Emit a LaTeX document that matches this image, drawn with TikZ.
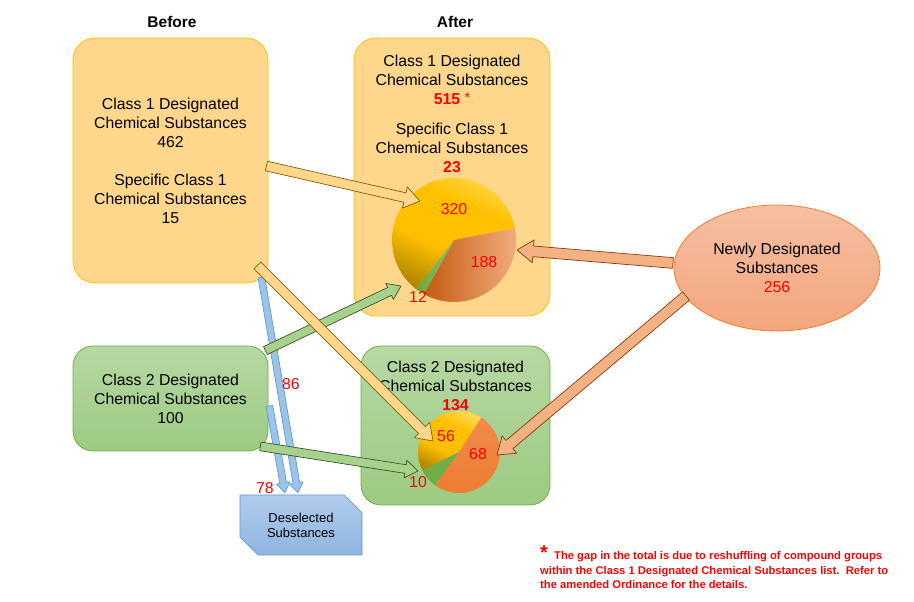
\documentclass[tikz,border=0pt]{standalone}
\usepackage{fontspec}
\setmainfont{Liberation Sans}
\usetikzlibrary{calc,shapes.geometric,shapes.arrows,shapes.misc}
\definecolor{orfill}{HTML}{FFD78C}
\definecolor{orline}{HTML}{FFC000}
\definecolor{grtop}{HTML}{B6D8A2}
\definecolor{grbot}{HTML}{9DCA82}
\definecolor{grline}{HTML}{70AD47}
\definecolor{saltop}{HTML}{F6BFA3}
\definecolor{salbot}{HTML}{F3A67C}
\definecolor{salline}{HTML}{ED7D31}
\definecolor{bltop}{HTML}{B0CCEC}
\definecolor{blbot}{HTML}{8FB5E2}
\definecolor{blline}{HTML}{5B9BD5}
\definecolor{arror}{HTML}{FFD68C}
\definecolor{arrorline}{HTML}{7F6000}
\definecolor{arrgr}{HTML}{A9D18E}
\definecolor{arrgrline}{HTML}{385723}
\definecolor{arrsal}{HTML}{F4B183}
\definecolor{arrsalline}{HTML}{843C0C}
\definecolor{arrbl}{HTML}{9DC3E6}
\definecolor{pieyel}{HTML}{FFC000}
\definecolor{pieyeltop}{HTML}{FFD84D}
\definecolor{pieyeldark}{HTML}{B58900}
\definecolor{pieor}{HTML}{ED7D31}
\definecolor{pieortop}{HTML}{F08A4C}
\definecolor{pieordark}{HTML}{C55A11}
\definecolor{pieormid}{HTML}{E8793A}
\definecolor{pieorlight}{HTML}{F4B183}
\definecolor{piegr}{HTML}{70AD47}
\definecolor{piegrdark}{HTML}{6AA53F}
\definecolor{piegrlight}{HTML}{8DC46A}
\pgfdeclareverticalshading{yelshade}{100bp}{color(0bp)=(pieyeldark); color(25bp)=(pieyeldark);
  color(42bp)=(pieyel); color(62bp)=(pieyel); color(75bp)=(pieyeltop); color(100bp)=(pieyeltop)}
\newcommand{\fatarrow}[3]{%
  \path let \p1=($(#3)-(#2)$), \n1={atan2(\y1,\x1)}, \n2={veclen(\x1,\y1)} in
    node[#1,minimum height=\n2,rotate=\n1,anchor=tail] at (#2) {};}
\begin{document}
\begin{tikzpicture}[x=1pt,y=1pt,line join=round,
    txt/.style={font=\fontsize{15.8}{19}\selectfont,align=center,inner sep=0pt},
    num/.style={font=\fontsize{15.8}{19}\selectfont,text=red,inner sep=0pt},
    hdr/.style={font=\fontsize{15.5}{18}\selectfont\bfseries},
    orbox/.style={rounded corners=22pt,draw=orline,fill=orfill,line width=0.8pt},
    grbox/.style={rounded corners=20pt,draw=grline,top color=grtop,bottom color=grbot,line width=0.8pt},
    fat/.style={single arrow,inner sep=0pt,outer sep=0pt,single arrow tip angle=70,
      single arrow head indent=0pt,line width=0.7pt},
    fator/.style={fat,draw=arrorline,fill=arror,inner ysep=4.5pt,single arrow head extend=6pt},
    fatgr/.style={fat,draw=arrgrline,fill=arrgr,inner ysep=4pt,single arrow head extend=4.5pt},
    fatsal/.style={fat,draw=arrsalline,fill=arrsal,inner ysep=5pt,single arrow head extend=6pt},
    fatbl/.style={fat,draw=blline,fill=arrbl,inner ysep=3pt,single arrow head extend=3.5pt}]
  \useasboundingbox (0,0) rectangle (914,602);
  \node[hdr] (before) at (172,580) {Before};
  \node[hdr] (after) at (455,580) {After};
  % boxes
  \node[orbox,txt,minimum width=195,minimum height=245] (b1) at (170.5,441.5)
    {Class 1 Designated\\Chemical Substances\\462\\[19pt]Specific Class 1\\Chemical Substances\\15};
  \node[orbox,minimum width=196,minimum height=278] (a1) at (452,425) {};
  \node[txt,anchor=north] (a1t) at (452,547.6)
    {Class 1 Designated\\Chemical Substances\\\textcolor{red}{\bfseries 515} \textcolor{red}{\raisebox{1.5pt}{\fontsize{14}{14}\selectfont*}}\\[11pt]
     Specific Class 1\\Chemical Substances\\\textcolor{red}{\bfseries 23}};
  \node[grbox,txt,minimum width=195,minimum height=105] (b2) at (170.5,203.5)
    {Class 2 Designated\\Chemical Substances\\100};
  \node[grbox,minimum width=189,minimum height=159] (a2) at (455.5,176.5) {};
  \node[txt,anchor=north] (a2t) at (455.5,241.6)
    {Class 2 Designated\\Chemical Substances\\\textcolor{red}{\bfseries 134}};
  \node[ellipse,txt,draw=salline,top color=saltop,bottom color=salbot,line width=0.8pt,
    minimum width=206,minimum height=126] (new) at (777,334)
    {Newly Designated\\Substances\\\textcolor{red}{256}};
  \node[chamfered rectangle,chamfered rectangle corners={north east,south west},
    chamfered rectangle xsep=9pt,chamfered rectangle ysep=9pt,
    draw=blline,top color=bltop,bottom color=blbot,line width=0.7pt,
    font=\fontsize{13}{15}\selectfont,align=center,inner sep=0pt,
    minimum width=122,minimum height=60] (desel) at (301,77) {Deselected\\Substances};
  % pies
  \coordinate (pie1) at (454,362);
  \coordinate (pie2) at (459,150);
  \shade[shading=yelshade,shading angle=-25]
    (pie1) -- ++(-127.5:62) arc[start angle=-127.5,end angle=-349,radius=62] -- cycle;
  \shade[left color=pieordark,middle color=pieormid,right color=pieorlight]
    (pie1) -- ++(11:62) arc[start angle=11,end angle=-119.2,radius=62] -- cycle;
  \shade[left color=piegrdark,right color=piegrlight]
    (pie1) -- ++(-119.2:62) arc[start angle=-119.2,end angle=-127.5,radius=62] -- cycle;
  \shade[shading=yelshade,shading angle=-25]
    (pie2) -- ++(-152.9:41) arc[start angle=-152.9,end angle=-303,radius=41] -- cycle;
  \shade[top color=pieortop,bottom color=pieor]
    (pie2) -- ++(57:41) arc[start angle=57,end angle=-126,radius=41] -- cycle;
  \fill[piegr]
    (pie2) -- ++(-126:41) arc[start angle=-126,end angle=-152.9,radius=41] -- cycle;
  % arrow ends
  \coordinate (bl1s) at ($(b1.south east)+(-7,6)$);
  \coordinate (bl1e) at ($(desel.north)+(-3,2)$);
  \coordinate (bl2s) at ($(b2.east)+(1,-7.5)$);
  \coordinate (bl2e) at ($(desel.north)+(-16,2)$);
  \coordinate (gr1s) at ($(b2.north east)+(-3,-5)$);
  \coordinate (gr1e) at ($(pie1)+(-53,-46)$);
  \coordinate (gr2s) at ($(b2.south east)+(-8,5)$);
  \coordinate (gr2e) at ($(pie2)+(-41,-19)$);
  \coordinate (or1s) at ($(b1.east)+(-2,-5.5)$);
  \coordinate (or1e) at ($(pie1)+(-34,39)$);
  \coordinate (or2s) at ($(b1.south east)+(-11,18)$);
  \coordinate (or2e) at ($(pie2)+(-26,11)$);
  \coordinate (sa1s) at ($(new)+(-104,5)$);
  \coordinate (sa1e) at ($(pie1)+(63,-10)$);
  \coordinate (sa2s) at ($(new)+(-91,-28)$);
  \coordinate (sa2e) at ($(pie2)+(38,-3)$);
  \fatarrow{fatbl}{bl1s}{bl1e}
  \fatarrow{fatbl}{bl2s}{bl2e}
  \fatarrow{fatgr}{gr1s}{gr1e}
  \fatarrow{fatgr}{gr2s}{gr2e}
  \fatarrow{fator}{or1s}{or1e}
  \fatarrow{fator}{or2s}{or2e}
  \fatarrow{fatsal}{sa1s}{sa1e}
  \fatarrow{fatsal}{sa2s}{sa2e}
  % numbers
  \node[num] (n320) at ($(pie1)+(0,31)$) {320};
  \node[num] (n188) at ($(pie1)+(30,-22)$) {188};
  \node[num] (n12) at ($(pie1)+(-36,-57)$) {12};
  \node[num] (n56) at ($(pie2)+(-13,16)$) {56};
  \node[num] (n68) at ($(pie2)+(19,-2)$) {68};
  \node[num] (n10) at ($(pie2)+(-41,-30)$) {10};
  \node[num] (n86) at (291,218) {86};
  \node[num] (n78) at (265,114) {78};
  \node[anchor=north west,inner sep=0pt,align=left,text=red,
    font=\fontsize{11.2}{14.5}\selectfont\bfseries] (note) at (540,56)
    {{\fontsize{20}{14.5}\selectfont*}\ \ The gap in the total is due to reshuffling of compound groups\\
     within the Class 1 Designated Chemical Substances list.\ \ Refer to\\
     the amended Ordinance for the details.};
\end{tikzpicture}
\end{document}
